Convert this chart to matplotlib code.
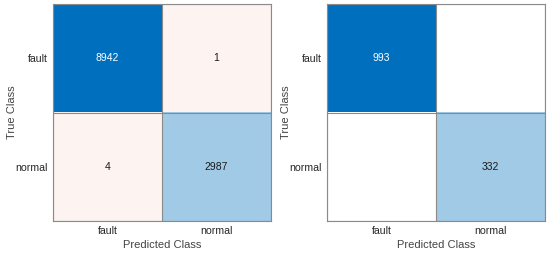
import matplotlib
matplotlib.use("Agg")
import matplotlib.pyplot as plt
import numpy as np

plt.rcParams['font.family'] = ['Liberation Sans', 'DejaVu Sans']

classes = ["fault", "normal"]
cm_left = [[8942, 1], [4, 2987]]
cm_right = [[993, 0], [0, 332]]

BLUE = np.array([0, 112, 190]) / 255.0
PINK = np.array([253, 244, 241]) / 255.0
WHITE = np.array([1.0, 1.0, 1.0])


def cell_colors(cm):
    cm = np.asarray(cm, dtype=float)
    n = cm.shape[0]
    dmax = np.max(np.diag(cm))
    rgb = np.ones((n, n, 3))
    for i in range(n):
        for j in range(n):
            v = cm[i, j]
            if i == j:
                f = min(1.0, 1.1 * v / dmax)
                rgb[i, j] = WHITE + f * (BLUE - WHITE)
            else:
                rgb[i, j] = PINK if v > 0 else WHITE
    return rgb


def draw(ax, cm):
    cm = np.asarray(cm)
    n = cm.shape[0]
    rgb = cell_colors(cm)
    ax.imshow(rgb, aspect='auto', interpolation='nearest')
    dmax = np.max(np.diag(cm))
    for i in range(n):
        for j in range(n):
            v = cm[i, j]
            if v == 0:
                continue
            col = 'white' if (i == j and v / dmax > 0.6) else '#1a1a1a'
            ax.text(j, i, str(v), ha='center', va='center', fontsize=7.5, color=col)
    for k in range(n + 1):
        ax.axhline(k - 0.5, color='#8a8a8a', lw=0.8)
        ax.axvline(k - 0.5, color='#8a8a8a', lw=0.8)
    ax.set_xticks(range(n))
    ax.set_yticks(range(n))
    ax.set_xticklabels(classes, fontsize=7.6, color='#262626')
    ax.set_yticklabels(classes, fontsize=7.6, color='#262626')
    ax.tick_params(length=0, pad=3.5)
    ax.set_xlabel("Predicted Class", fontsize=8, color='#444444', labelpad=3)
    ax.set_ylabel("True Class", fontsize=8, color='#444444', labelpad=-1)
    for s in ax.spines.values():
        s.set_color('#8a8a8a')
        s.set_linewidth(0.8)
    ax.set_xlim(-0.5, n - 0.5)
    ax.set_ylim(n - 0.5, -0.5)


fig = plt.figure(figsize=(5.5, 2.54), dpi=100)
ax1 = fig.add_axes([53 / 550, 1 - 221 / 254, 218 / 550, 217 / 254])
ax2 = fig.add_axes([327 / 550, 1 - 221 / 254, 218 / 550, 217 / 254])
draw(ax1, cm_left)
draw(ax2, cm_right)
fig.savefig("out.png", dpi=100)
